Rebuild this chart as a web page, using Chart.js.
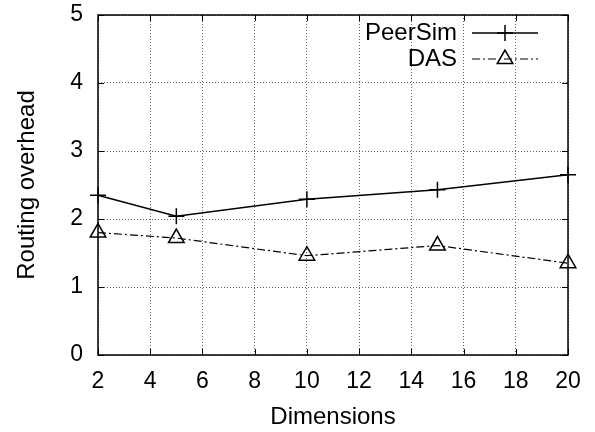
<!DOCTYPE html>
<html>
<head>
<meta charset="utf-8">
<script src="https://cdn.jsdelivr.net/npm/chart.js@4"></script>
<style>
	html, body { margin: 0; padding: 0; background: #fff; }
	#wrap { width: 595px; height: 432px; position: relative; }
</style>
</head>
<body>
<div id="wrap"><canvas id="chart"></canvas></div>
<script>
const dimensions = [2, 5, 10, 15, 20];
const peerSim = [2.35, 2.04, 2.29, 2.43, 2.65];
const das = [1.80, 1.72, 1.46, 1.61, 1.35];
const xTicks = [2, 4, 6, 8, 10, 12, 14, 16, 18, 20];
const yTicks = [0, 1, 2, 3, 4, 5];

const FONT = "'Liberation Sans', Arial, sans-serif";
const DASHDOT = [8, 3, 2, 3];

function toPoints(values) {
	return dimensions.map((d, i) => ({ x: d, y: values[i] }));
}

// gnuplot style: short inward ticks on all four borders
const innerTicks = {
	id: 'innerTicks',
	afterDatasetsDraw(chart) {
		const { ctx, chartArea: a, scales } = chart;
		ctx.save();
		ctx.strokeStyle = '#000';
		ctx.lineWidth = 1;
		const len = 6;
		scales.x.ticks.forEach(t => {
			const px = Math.round(scales.x.getPixelForValue(t.value)) + 0.5;
			ctx.beginPath();
			ctx.moveTo(px, a.bottom); ctx.lineTo(px, a.bottom - len);
			ctx.moveTo(px, a.top); ctx.lineTo(px, a.top + len);
			ctx.stroke();
		});
		scales.y.ticks.forEach(t => {
			const py = Math.round(scales.y.getPixelForValue(t.value)) + 0.5;
			ctx.beginPath();
			ctx.moveTo(a.left, py); ctx.lineTo(a.left + len, py);
			ctx.moveTo(a.right, py); ctx.lineTo(a.right - len, py);
			ctx.stroke();
		});
		ctx.lineWidth = 1.5;
		ctx.strokeRect(a.left, a.top, a.right - a.left, a.bottom - a.top);
		ctx.restore();
	}
};

// legend: text right-aligned, sample line with marker to its right
const gnuLegend = {
	id: 'gnuLegend',
	afterDraw(chart) {
		const { ctx } = chart;
		const textRight = 457, x0 = 472, x1 = 538, mid = 505;
		ctx.save();
		ctx.font = '24px ' + FONT;
		ctx.textAlign = 'right';
		ctx.textBaseline = 'middle';
		chart.data.datasets.forEach((ds, i) => {
			const y = 33 + i * 26;
			ctx.fillStyle = '#000';
			ctx.fillText(ds.label, textRight, y);
			ctx.strokeStyle = '#000';
			ctx.lineWidth = ds.borderWidth;
			ctx.setLineDash(ds.borderDash || []);
			ctx.beginPath();
			ctx.moveTo(x0, y); ctx.lineTo(x1, y);
			ctx.stroke();
			ctx.setLineDash([]);
			ctx.lineWidth = ds.pointBorderWidth;
			const r = ds.pointRadius;
			ctx.beginPath();
			if (ds.pointStyle === 'cross') {
				ctx.moveTo(mid - r, y); ctx.lineTo(mid + r, y);
				ctx.moveTo(mid, y - r); ctx.lineTo(mid, y + r);
				ctx.stroke();
			} else {
				const s = r * Math.sqrt(3) / 2;
				ctx.moveTo(mid, y - r);
				ctx.lineTo(mid + s, y + r / 2);
				ctx.lineTo(mid - s, y + r / 2);
				ctx.closePath();
				ctx.stroke();
			}
		});
		ctx.restore();
	}
};

new Chart(document.getElementById('chart'), {
	type: 'scatter',
	data: {
		datasets: [
			{
				label: 'PeerSim',
				data: toPoints(peerSim),
				showLine: true,
				clip: false,
				borderColor: '#000',
				borderWidth: 1.4,
				pointStyle: 'cross',
				pointRadius: 8,
				pointBorderWidth: 1.5,
				pointBorderColor: '#000',
				pointBackgroundColor: '#000'
			},
			{
				label: 'DAS',
				data: toPoints(das),
				showLine: true,
				clip: false,
				borderColor: '#000',
				borderWidth: 1.2,
				borderDash: DASHDOT,
				pointStyle: 'triangle',
				pointRadius: 9,
				pointBorderWidth: 1.5,
				pointBorderColor: '#000',
				pointBackgroundColor: 'rgba(255,255,255,0)'
			}
		]
	},
	options: {
		responsive: true,
		maintainAspectRatio: false,
		animation: false,
		layout: { padding: { left: 0, right: 27, top: 15, bottom: 0 } },
		plugins: {
			legend: { display: false },
			tooltip: { enabled: false }
		},
		scales: {
			x: {
				type: 'linear',
				min: 2,
				max: 20,
				afterBuildTicks: s => { s.ticks = xTicks.map(v => ({ value: v })); },
				afterFit: s => { s.height = 77; },
				border: { display: false, dash: [1, 2] },
				grid: { color: '#666', drawTicks: false, lineWidth: 1 },
				ticks: { color: '#000', font: { family: FONT, size: 23 }, padding: 13, maxRotation: 0 },
				title: { display: true, text: 'Dimensions', color: '#000', font: { family: FONT, size: 24 }, padding: { top: 0, bottom: 0 } }
			},
			y: {
				min: 0,
				max: 5,
				afterBuildTicks: s => { s.ticks = yTicks.map(v => ({ value: v })); },
				afterFit: s => { s.width = 98; s.paddingTop = 0; s.paddingBottom = 0; },
				border: { display: false, dash: [1, 2] },
				grid: { color: '#666', drawTicks: false, lineWidth: 1 },
				ticks: { color: '#000', font: { family: FONT, size: 23 }, padding: 15 },
				title: { display: true, text: 'Routing overhead', color: '#000', font: { family: FONT, size: 24 }, padding: { top: 13, bottom: 0 } }
			}
		}
	},
	plugins: [innerTicks, gnuLegend]
});
</script>
</body>
</html>
